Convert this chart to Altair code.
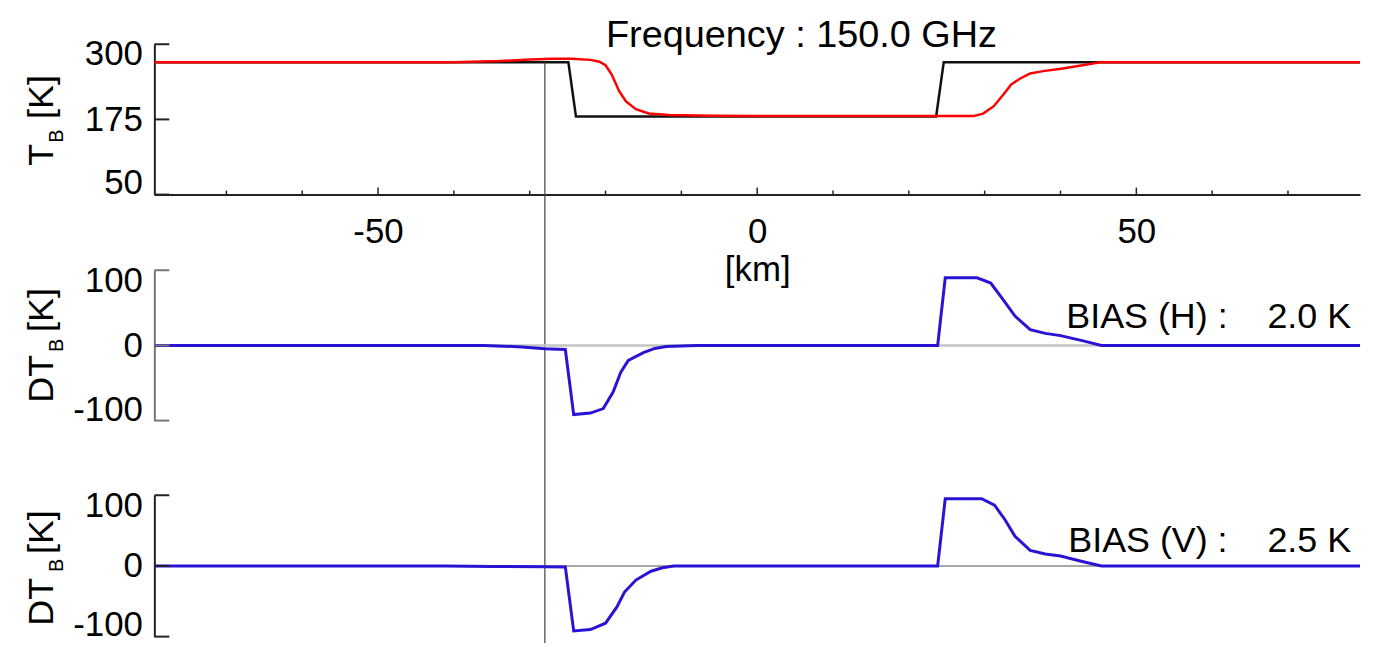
import altair as alt
import pandas as pd

# ---------------- data ----------------
title_text = "Frequency : 150.0 GHz"

x_black = [-79.5, -24.9, -23.9, 23.6, 24.6, 79.5]
tb_black = [270, 270, 180, 180, 270, 270]

x_red = [-79.5, -40, -34, -30, -27, -24.5, -22, -20.8, -20, -19.2, -18.2, -17.3,
         -16, -14.3, -11.6, -6, 0, 10, 20, 28.5, 29.8, 31.2, 32.5, 33.5, 34.7,
         36, 37.7, 40.3, 42.9, 45.2, 79.5]
tb_red = [270, 270, 272, 274.5, 276, 276, 274, 271, 265, 250, 222, 205,
          192, 185, 182.5, 181, 180.5, 180.5, 180.5, 180.5, 184.6, 197, 216.7, 233, 243,
          251.5, 255.3, 259.8, 265, 270, 270]

x_h = [-79.5, -36, -31, -28, -25.3, -24.2, -22, -20.3, -19, -18, -17, -15, -13.5,
       -12, -8, 23.8, 24.8, 29, 30.8, 32.5, 34, 36, 38, 40, 43, 45.4, 79.5]
dt_h = [0, 0, -2, -4.5, -5.5, -92, -90, -84, -62, -36, -20, -9.5, -4,
        -1.5, 0, 0, 90, 90, 83, 60, 39, 21, 16, 13, 6, 0, 0]

x_v = [-79.5, -41, -35, -28, -25.3, -24.2, -22, -20, -18.5, -17.5, -16, -14, -12.5,
       -11, 23.8, 24.8, 29.6, 31.3, 32.7, 34, 36, 38, 40, 43, 45.4, 79.5]
dt_v = [0, 0, -0.7, -1.3, -1.5, -92, -90, -81, -58, -37, -20, -7.5, -2.5,
        0, 0, 95, 95, 86, 65, 42, 22, 17, 14, 6, 0, 0]

NB = "\u00a0"
bias_h = "BIAS (H) :" + NB * 4 + "2.0 K"
bias_v = "BIAS (V) :" + NB * 4 + "2.5 K"

tb_ticks = [50, 175, 300]
dt_ticks = [-100, 0, 100]
x_major = [-50, 0, 50]
x_minor = [-70, -60, -40, -30, -20, -10, 10, 20, 30, 40, 60, 70]
x_cut = [-28]
tb_cut_top = [270]

# ---------------- layout / styling ----------------
FONT = "Liberation Sans"
W = 1211
HP = 598                      # whole plot area (three stacked bands)
R1 = [151, 0]                 # pixel band of the T_B panel
R2 = [378, 227]               # pixel band of the H panel
R3 = [595, 453]               # pixel band of the V panel

xs = alt.Scale(domain=[-79.5, 79.5], nice=False, zero=False)
ys1 = alt.Scale(domain=[50, 300], nice=False, zero=False, range=R1)
ys2 = alt.Scale(domain=[-100, 100], nice=False, zero=False, range=R2)
ys3 = alt.Scale(domain=[-100, 100], nice=False, zero=False, range=R3)


def text_layer(txt, x, y, size, angle=0, align="left"):
    return alt.Chart(pd.DataFrame({"t": [txt]})).mark_text(
        angle=angle, align=align, baseline="alphabetic", font=FONT,
        fontSize=size, color="black"
    ).encode(text="t:N", x=alt.value(x), y=alt.value(y))


def ytitle(main, main_start, sub_start, unit_start):
    return [
        text_layer(main, -102, main_start, 36, angle=270),
        text_layer("B", -92, sub_start, 20, angle=270),
        text_layer("[K]", -102, unit_start, 36, angle=270),
    ]


def yaxis(values, color, offset_expr):
    return alt.Axis(values=values, title=None, grid=False, ticks=False,
                    domainColor=color, domainWidth=2, labelFont=FONT,
                    labelFontSize=35, labelColor="black", labelPadding=12,
                    labelFlush=False, labelBaseline="middle",
                    labelOffset=alt.ExprRef(expr=offset_expr),
                    labelExpr="'' + datum.value", orient="left")


def yticks(values, scale, color, axis):
    return alt.Chart(pd.DataFrame({"y": values})).mark_rule(
        color=color, strokeWidth=2
    ).encode(y=alt.Y("y:Q", scale=scale, axis=axis), x=alt.value(0), x2=alt.value(15))


xaxis = alt.Axis(values=x_major, title="[km]", grid=False, ticks=False,
                 domainColor="#222", domainWidth=2, labelFont=FONT,
                 labelFontSize=35, labelColor="black", labelPadding=20,
                 labelFlush=False, labelExpr="'' + datum.value",
                 titleFont=FONT, titleFontSize=35, titleFontWeight="normal",
                 titleColor="black", titlePadding=3, offset=R1[0] - HP)

# ---------- panel 1 ----------
ya1 = yaxis(tb_ticks, "#222", "datum.value == 300 ? 9 : datum.value == 50 ? -12 : 0")
df_black = pd.DataFrame({"x": x_black, "y": tb_black})
df_red = pd.DataFrame({"x": x_red, "y": tb_red})

black_line = alt.Chart(df_black).mark_line(color="#111111", strokeWidth=2.5).encode(
    x=alt.X("x:Q", scale=xs, axis=xaxis), y=alt.Y("y:Q", scale=ys1, axis=ya1))
red_line = alt.Chart(df_red).mark_line(color="#ff0000", strokeWidth=2.5).encode(
    x=alt.X("x:Q", scale=xs, axis=xaxis), y=alt.Y("y:Q", scale=ys1, axis=ya1))
minor_ticks = alt.Chart(pd.DataFrame({"x": x_minor})).mark_rule(color="#222", strokeWidth=1.5).encode(
    x=alt.X("x:Q", scale=xs, axis=xaxis), y=alt.value(R1[0]), y2=alt.value(R1[0] - 4))
major_ticks = alt.Chart(pd.DataFrame({"x": x_major})).mark_rule(color="#222", strokeWidth=1.5).encode(
    x=alt.X("x:Q", scale=xs, axis=xaxis), y=alt.value(R1[0]), y2=alt.value(R1[0] - 7))
vline = alt.Chart(pd.DataFrame({"x": x_cut, "y": tb_cut_top})).mark_rule(
    color="#444444", strokeWidth=1.2
).encode(x=alt.X("x:Q", scale=xs, axis=xaxis),
         y=alt.Y("y:Q", scale=ys1, axis=ya1), y2=alt.value(HP + 10))

panel1 = alt.layer(
    black_line, red_line, minor_ticks, major_ticks, yticks(tb_ticks, ys1, "#222", ya1), vline,
    text_layer(title_text, 650, 3, 38, align="center"),
    *ytitle("T", 122, 99, 75),
)


# ---------- panels 2 & 3 ----------
def dt_panel(xv, yv, ys, axis_color, zero_color, zero_width, bias, bias_y, ts, off):
    ya = yaxis(dt_ticks, axis_color, off)
    df = pd.DataFrame({"x": xv, "y": yv})
    zero = alt.Chart(pd.DataFrame({"y": [0]})).mark_rule(
        color=zero_color, strokeWidth=zero_width
    ).encode(y=alt.Y("y:Q", scale=ys, axis=ya))
    line = alt.Chart(df).mark_line(color="#2a14d4", strokeWidth=3).encode(
        x=alt.X("x:Q", scale=xs, axis=xaxis), y=alt.Y("y:Q", scale=ys, axis=ya))
    return alt.layer(
        zero, line, yticks(dt_ticks, ys, axis_color, ya),
        text_layer(bias, 1202, bias_y, 36, align="right"),
        *ytitle("DT", ts[0], ts[1], ts[2]),
    )


panel2 = dt_panel(x_h, dt_h, ys2, "#777777", "#c4c4c4", 2.5, bias_h, 285, (360, 309, 289),
                  "datum.value == 100 ? 10 : datum.value == -100 ? -11 : 0")
panel3 = dt_panel(x_v, dt_v, ys3, "#222222", "#8a8a8a", 1.5, bias_v, 510, (584, 530, 512),
                  "datum.value == 100 ? 10 : datum.value == -100 ? -12 : 0")

chart = alt.layer(panel1, panel2, panel3).resolve_scale(y="independent").properties(
    width=W, height=HP,
    autosize=alt.AutoSizeParams(type="none"),
    padding={"left": 147, "top": 35, "right": 5, "bottom": 2},
).configure(font=FONT).configure_view(stroke=None)

chart.save("out.html", embed_options={"renderer": "svg", "actions": False})
